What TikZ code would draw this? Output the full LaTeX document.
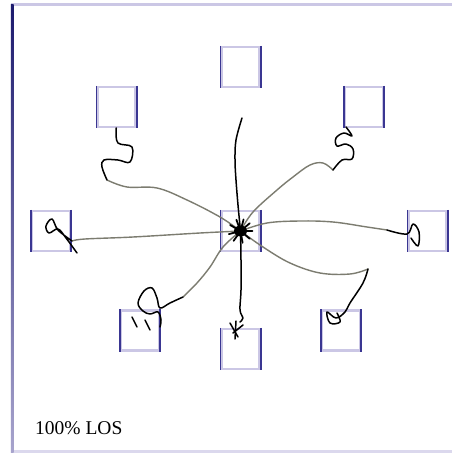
\documentclass[tikz,border=0pt]{standalone}
\usepackage{fontspec}
\setmainfont{Liberation Serif}
\definecolor{navy}{HTML}{1C1A6E}
\definecolor{lav}{HTML}{CBC7E5}
\definecolor{side}{HTML}{3A3692}
\definecolor{wirecol}{HTML}{7C7C70}
\tikzset{
  box/.style={draw=lav, line width=2.2pt, fill=white, minimum width=38pt,
    minimum height=40pt, inner sep=0pt},
  wire/.style={draw=wirecol, line width=1.4pt, line cap=round, line join=round},
  ink/.style={draw=black, line width=1.5pt, line cap=round, line join=round},
}
\begin{document}
\begin{tikzpicture}[x=1pt,y=-1pt]
\useasboundingbox (0,0) rectangle (452,453);
\fill[white] (0,0) rectangle (452,453);

% frame
\fill[lav] (11,3) rectangle (452,5.5);
\fill[lav!70] (11,450) rectangle (452,452.5);
\shade[top color=navy, bottom color=lav!80!navy] (10.8,4) rectangle (13.6,453);

% boxes
\node[box] (t)  at (240.5,67)  {};
\node[box] (tl) at (116.5,107) {};
\node[box] (tr) at (364,107)   {};
\node[box] (l)  at (51,231)    {};
\node[box] (c)  at (240.5,231) {};
\node[box] (r)  at (427.5,231) {};
\node[box] (bl) at (140,330.5) {};
\node[box] (b)  at (240.5,349) {};
\node[box] (br) at (341,330.5) {};
\foreach \n in {t,tl,tr,l,c,r,bl,b,br}{
  \draw[side, line width=1.8pt] (\n.north west) -- (\n.south west);
  \draw[side, line width=1.8pt] (\n.north east) -- (\n.south east);
}

% free end of the upward stroke
\coordinate (tend) at (242,118);

% connectors from the hub
\draw[ink] plot[smooth, tension=0.6] coordinates {(c.center) (238,205) (236,180) (235,160) (236,140) (tend)};

\draw[wire] plot[smooth, tension=0.6] coordinates {(c.center) (220,217) (187,200) (157,188) (127,187) (107,180)};
\draw[ink] plot[smooth, tension=0.6] coordinates {(107,180) (102,167) (104,160) (118,160) (130,162) (132,147) (118,143) (116,130) (tl.south)};

\draw[wire] plot[smooth, tension=0.6] coordinates {(c.center) (253,212) (277,190) (293,177) (310,165) (323,163) (333,170)};
\draw[ink] plot[smooth, tension=0.6] coordinates {(333,170) (342,160) (352,159) (353,149) (346,144) (337,146) (336,138) (344,133) (352,136) (346,127)};

\draw[wire] plot[smooth, tension=0.6] coordinates {(c.center) (267,223) (300,221) (333,222) (367,227) (387,230)};
\draw[ink] plot[smooth, tension=0.6] coordinates {(387,230) (407,234) (413,224) (419,232) (418,246) (411,238)};

\draw[wire] plot[smooth, tension=0.6] coordinates {(c.center) (263,247) (290,263) (320,273) (350,274) (368,269)};
\draw[ink] plot[smooth, tension=0.6] coordinates {(368,269) (363,283) (350,303) (345,312) (336,318) (327,312) (330,323) (340,322) (337,313)};

\draw[ink] plot[smooth, tension=0.6] coordinates {(c.center) (241,260) (241,290) (240,310) (243,318) (240,322)};
\draw[ink] (230,323) -- (238,337);
\draw[ink] (233,333) -- (243,325);
\draw[ink] (236,321) -- (235,339);

\draw[wire] plot[smooth, tension=0.6] coordinates {(c.center) (223,247) (210,267) (197,283) (183,297)};
\draw[ink] plot[smooth, tension=0.6] coordinates {(183,297) (170,303) (160,308) (157,298) (152,288) (144,291) (138,303) (143,311) (150,314) (158,312) (161,320) (160,327)};
\draw[ink] (132,317) -- (137,327);
\draw[ink] (145,320) -- (150,330);

\draw[wire] plot[smooth, tension=0.6] coordinates {(c.center) (200,233) (133,237) (85,239) (72,241)};
\draw[ink] plot[smooth, tension=0.6] coordinates {(72,241) (58,230) (52,219) (46,226) (49,233) (58,229) (66,238) (77,253)};

% hub knot
\fill[black] (c.center) ellipse (6.5pt and 5.5pt);
\foreach \a in {0,40,75,110,150,195,235,280,320}
  \draw[ink, line width=1.8pt] (c.center) -- ++(\a:12pt);

% caption
\node[anchor=base west, inner sep=0pt, font=\fontsize{19.5}{22}\selectfont] (cap) at (35,434) {100\% LOS};
\end{tikzpicture}
\end{document}
